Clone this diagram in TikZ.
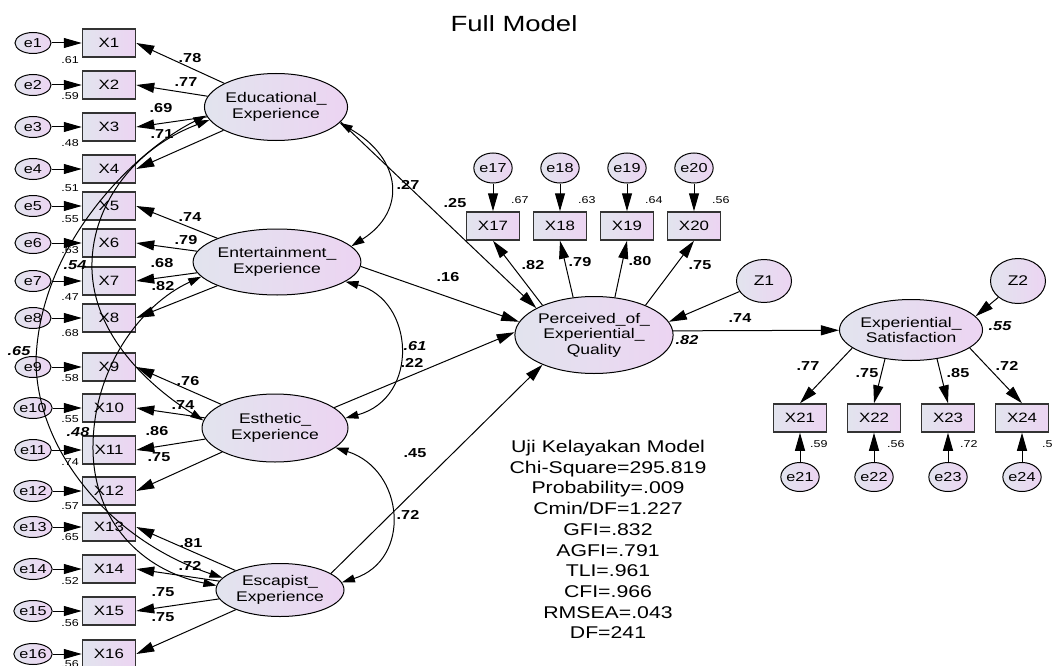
\documentclass[tikz,border=0pt]{standalone}
\usepackage{fontspec}
\setmainfont[FakeStretch=1.25]{Liberation Sans}
\usetikzlibrary{shapes.geometric,arrows.meta}

\definecolor{fillL}{RGB}{226,228,238}
\definecolor{fillR}{RGB}{236,212,242}
\definecolor{boxline}{RGB}{51,51,51}

\tikzset{
  latent/.style={ellipse, draw, line width=1pt, left color=fillL, right color=fillR,
    inner sep=0pt, align=center, font=\fontsize{14}{15.5}\selectfont},
  errc/.style={ellipse, draw, line width=1pt, left color=fillL, right color=fillR,
    inner sep=0pt, minimum width=36pt, font=\fontsize{13}{13}\selectfont},
  obs/.style={rectangle, draw=boxline, line width=1.5pt, left color=fillL, right color=fillR,
    minimum width=53pt, minimum height=28pt, inner sep=0pt, font=\fontsize{13.5}{13.5}\selectfont},
  coef/.style={font=\bfseries\fontsize{13}{13}\selectfont, inner sep=0pt},
  corr/.style={font=\bfseries\itshape\fontsize{13}{13}\selectfont, inner sep=0pt},
  smc/.style={font=\fontsize{10}{10}\selectfont, inner sep=0pt},
  reg/.style={-{Triangle[length=18pt,width=10pt]}, line width=1pt},
  cov/.style={{Triangle[length=13pt,width=8pt]}-{Triangle[length=13pt,width=8pt]}, line width=1pt},
}

\begin{document}
\begin{tikzpicture}[x=1pt, y=-1pt]
    \useasboundingbox (0,0) rectangle (1054,666);

    % judul
    \node[font=\fontsize{22}{22}\selectfont, anchor=north, inner sep=0pt] (title) at (514,15) {Full Model};

    % variabel laten
    \node[latent, minimum width=134pt, minimum height=67pt] (Edu) at (276,107) {Educational\_\\Experience};
    \node[latent, minimum width=136pt, minimum height=66pt] (Ent) at (277,262) {Entertainment\_\\Experience};
    \node[latent, minimum width=146pt, minimum height=68pt] (Est) at (275,428) {Esthetic\_\\Experience};
    \node[latent, minimum width=128pt, minimum height=53pt] (Esc) at (280,590) {Escapist\_\\Experience};
    \node[latent, minimum width=149pt, minimum height=77pt] (Per) at (594,335) {Perceived\_of\_\\Experiential\_\\Quality};
    \node[latent, minimum width=138pt, minimum height=61pt] (Sat) at (911,330) {Experiential\_\\Satisfaction};
    \node[latent, minimum width=55pt, minimum height=43pt] (Z1) at (764,281) {Z1};
    \node[latent, minimum width=55pt, minimum height=45pt] (Z2) at (1018,281) {Z2};

    % indikator kiri X1--X16
    \foreach \i/\y/\v/\ry in {1/43/.61/60, 2/85/.59/96, 3/127/.48/143, 4/169/.51/188,
        5/206/.55/219, 6/243/.63/250, 7/281/.47/297, 8/318/.68/333,
        9/367/.58/378, 10/408/.55/419, 11/450/.74/462, 12/491/.57/506,
        13/527/.65/537, 14/569/.52/581, 15/611/.56/623, 16/654/.56/664}{
        \node[obs] (X\i) at (109,\y) {X\i};
        \node[errc, minimum height=21pt] (e\i) at (33,\y) {e\i};
        \node[smc, anchor=east] (r\i) at (79,\ry) {\v};
        \draw[reg] (e\i) -- (X\i);
    }

    % indikator atas X17--X20
    \foreach \i/\x/\v in {17/493/.67, 18/560/.63, 19/627/.64, 20/694/.56}{
        \node[obs] (X\i) at (\x,226) {X\i};
        \node[errc, minimum height=30pt] (e\i) at (\x,168) {e\i};
        \node[smc, anchor=west] (r\i) at ([xshift=18pt, yshift=11pt]X\i.north) {\v};
        \draw[reg] (e\i) -- (X\i);
    }

    % indikator bawah X21--X24
    \foreach \i/\x/\v/\s in {21/800/.59/10, 22/874/.56/13, 23/948/.72/12, 24/1022/.5/20}{
        \node[obs] (X\i) at (\x,418) {X\i};
        \node[errc, minimum height=29pt] (e\i) at (\x,477) {e\i};
        \node[smc, anchor=west] (r\i) at ([xshift=\s pt, yshift=-11pt]X\i.south) {\v};
        \draw[reg] (e\i) -- (X\i);
    }

    % loading faktor
    \foreach \i in {1,...,4} \draw[reg] (Edu) -- (X\i.east);
    \foreach \i in {5,...,8} \draw[reg] (Ent) -- (X\i.east);
    \foreach \i in {9,...,12} \draw[reg] (Est) -- (X\i.east);
    \foreach \i in {13,...,16} \draw[reg] (Esc) -- (X\i.east);
    \draw[reg] (Per.150) -- (X17.south);
    \draw[reg] (Per.119) -- (X18.south);
    \draw[reg] (Per.61) -- (X19.south);
    \draw[reg] (Per.30) -- (X20.south);
    \draw[reg] (Sat.197) -- (X21.north);
    \draw[reg] (Sat.228) -- (X22.north);
    \draw[reg] (Sat.-48) -- (X23.north);
    \draw[reg] (Sat.-17) -- (X24.north);

    % jalur struktural
    \draw[reg] (Edu.-13) -- (Per.155);
    \draw[reg] (Ent.-3) -- (Per.170);
    \draw[reg] (Est.19) -- (Per.178);
    \draw[reg] (Esc.18) -- (Per.210);
    \draw[reg] (Per.3) -- (Sat);
    \draw[reg] (Z1) -- (Per.10);
    \draw[reg] (Z2) -- (Sat.12);

    % kovarians antar laten eksogen
    \draw[cov] (Edu.-14) .. controls (402,159) and (407,211) .. (Ent.12);
    \draw[cov] (Ent.-16) .. controls (415,300) and (420,398) .. (Est.8);
    \draw[cov] (Est.-18) .. controls (405,470) and (412,560) .. (Esc.7);
    \draw[cov] (Edu.187) .. controls (140,148) and (40,240) .. (36,360)
        .. controls (36,450) and (110,540) .. (Esc.168);
    \draw[cov] (Edu.191) .. controls (130,150) and (90,210) .. (92,270)
        .. controls (94,330) and (140,380) .. (Est.174);
    \draw[cov] (Ent.191) .. controls (140,305) and (92,370) .. (93,450)
        .. controls (94,520) and (140,570) .. (Esc.176);

    % angka loading
    \foreach \t/\x/\y [count=\k] in {.78/190/58, .77/186/82, .69/161/108, .71/162/134,
        .74/190/217, .79/186/240, .68/162/263, .82/163/286,
        .76/188/381, .74/183/405, .86/157/431, .75/159/457,
        .81/191/543, .72/190/566, .75/163/592, .75/163/617,
        .82/533/265, .79/580/262, .80/640/261, .75/700/265,
        .77/808/366, .75/867/373, .85/958/373, .72/1007/366,
        .25/455/203, .16/448/277, .22/412/363, .45/415/453, .74/740/318,
        .27/408/185, .72/408/515}
        \node[coef] (c\k) at (\x,\y) {\t};

    % korelasi dan R kuadrat
    \foreach \t/\x/\y [count=\k] in {.61/415/346, .54/75/265, .65/19/351, .48/78/432,
        .82/687/340, .55/1000/326}
        \node[corr] (k\k) at (\x,\y) {\t};

    % uji kelayakan model
    \node[align=center, anchor=north, inner sep=0pt, font=\fontsize{17}{20.7}\selectfont] (fit) at (608,440)
        {Uji Kelayakan Model\\Chi-Square=295.819\\Probability=.009\\Cmin/DF=1.227\\GFI=.832\\AGFI=.791\\TLI=.961\\CFI=.966\\RMSEA=.043\\DF=241};
\end{tikzpicture}
\end{document}
